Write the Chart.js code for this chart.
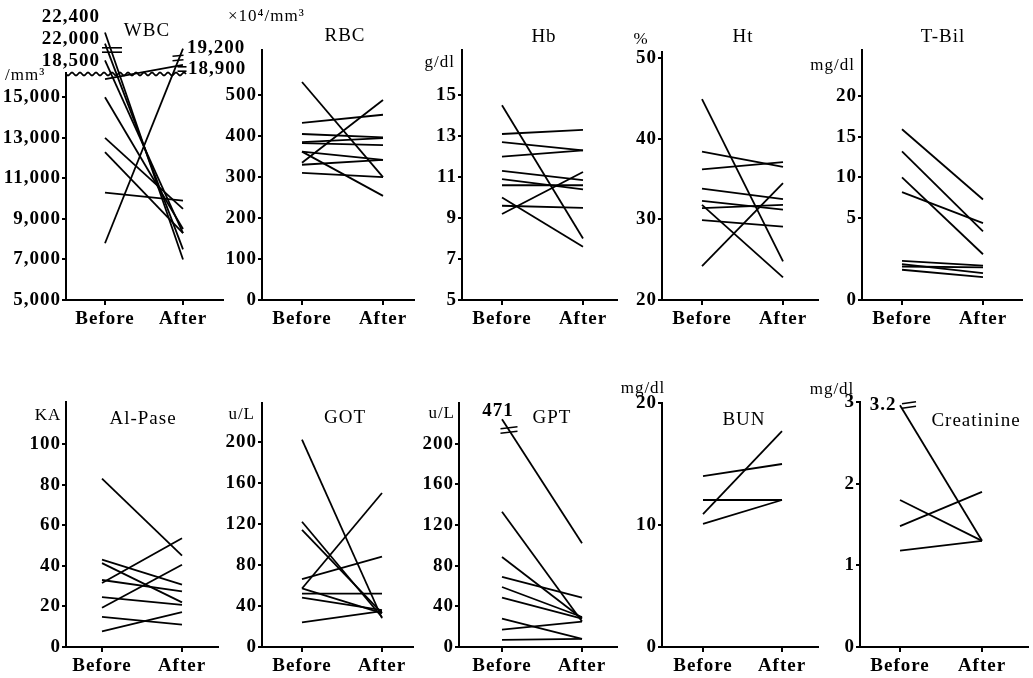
<!DOCTYPE html>
<html>
<head>
<meta charset="utf-8">
<script src="https://cdn.jsdelivr.net/npm/chart.js@4.4.1/dist/chart.umd.min.js"></script>
<style>
  html, body { margin: 0; padding: 0; background: #fff; }
  body { width: 1033px; height: 678px; position: relative; overflow: hidden; }
  canvas { position: absolute; }
</style>
</head>
<body>
<script>
const phases = ['Before', 'After'];

// WBC (/mm3) - values above 16,200 sit over the wavy break
const wbcBefore = [22400, 22000, 18500, 15900, 15000, 13000, 12300, 10300, 7800];
const wbcAfter  = [7000, 7500, 8300, 18900, 8500, 9500, 8300, 9900, 19200];
const wbcTicks  = [5000, 7000, 9000, 11000, 13000, 15000];
const wbcBreakPos = { 22400: 18200, 22000: 17650, 18500: 16820, 19200: 17400, 18900: 16600 };

// RBC (x10^4/mm3)
const rbcBefore = [532, 335, 432, 405, 385, 383, 362, 330, 310, 362];
const rbcAfter  = [300, 488, 452, 397, 395, 378, 342, 342, 300, 254];
const rbcTicks  = [0, 100, 200, 300, 400, 500];

// Hb (g/dl)
const hbBefore = [14.5, 13.1, 12.7, 12.0, 11.3, 10.9, 10.6, 10.0, 9.6, 9.2];
const hbAfter  = [8.0, 13.3, 12.3, 12.3, 10.85, 10.4, 10.6, 7.6, 9.5, 11.25];
const hbTicks  = [5, 7, 9, 11, 13, 15];

// Ht (%)
const htBefore = [44.9, 38.4, 36.2, 33.8, 32.3, 31.4, 31.8, 29.9, 24.2];
const htAfter  = [24.8, 36.5, 37.1, 32.5, 31.2, 31.8, 22.8, 29.1, 34.5];
const htTicks  = [20, 30, 40, 50];

// T-Bil (mg/dl) - the 0..5 band is drawn twice as tall
const tbilBefore = [15.9, 13.2, 10.0, 8.2, 2.4, 2.2, 2.05, 1.85];
const tbilAfter  = [7.3, 4.2, 2.8, 4.7, 2.1, 1.65, 2.0, 1.4];
const tbilTicks  = [0, 5, 10, 15, 20];

// Al-Pase (KA)
const alpBefore = [83, 43, 41.3, 33, 31.5, 24.6, 19.3, 14.8, 7.7];
const alpAfter  = [45, 30.7, 22, 27.4, 53.6, 20.8, 40.5, 11, 17.2];
const alpTicks  = [0, 20, 40, 60, 80, 100];

// GOT (u/L)
const gotBefore = [202, 122, 114, 66, 57, 57, 52, 48, 24];
const gotAfter  = [28, 29, 33, 88, 150, 33, 52, 36, 35];
const gotTicks  = [0, 40, 80, 120, 160, 200];

// GPT (u/L) - 471 is drawn below the break
const gptBefore = [471, 133, 88.5, 69, 59, 48.5, 28, 17, 7];
const gptAfter  = [102, 25, 28, 48.5, 29.5, 28, 8, 25, 8];
const gptTicks  = [0, 40, 80, 120, 160, 200];
const gptBreakPos = 224;

// BUN (mg/dl)
const bunBefore = [14.0, 12.05, 10.9, 10.1];
const bunAfter  = [15.0, 12.05, 17.7, 12.05];
const bunTicks  = [0, 10, 20];

// Creatinine (mg/dl) - 3.2 is drawn below the break
const creBefore = [3.2, 1.8, 1.48, 1.18];
const creAfter  = [1.3, 1.3, 1.9, 1.3];
const creTicks  = [0, 1, 2, 3];
const creBreakPos = 2.96;

const SERIF = '"Liberation Serif", "DejaVu Serif", serif';
const F_TICK = 'bold 19px ' + SERIF;
const F_TITLE = '19px ' + SERIF;
const F_UNIT = '17px ' + SERIF;
const ML = 70, MT = 80, MR = 45, MB = 40;

const same = v => v;
const plain = v => String(v);

const panels = [
  {
    before: wbcBefore, after: wbcAfter, ticks: wbcTicks, min: 5000, max: 16200,
    shown: v => (v > 16200 ? wbcBreakPos[v] : v),
    fmt: v => v.toLocaleString('en-US'),
    box: { l: 66, bx: 105, ax: 183, r: 223, t: 73, b: 300 },
    texts: [
      ['WBC', 147, 31, 'center', F_TITLE],
      ['/mm\u00b3', 5, 76, 'left', F_UNIT],
      ['22,400', 100, 17, 'right', F_TICK],
      ['22,000', 100, 39, 'right', F_TICK],
      ['18,500', 100, 61, 'right', F_TICK],
      ['19,200', 187, 48, 'left', F_TICK],
      ['18,900', 188, 69, 'left', F_TICK]
    ],
    marks: [[112, 50, 20, 0], [178, 58, 11, -1], [182, 69, 9, 0]],
    wave: [66, 186, 74]
  },
  {
    before: rbcBefore, after: rbcAfter, ticks: rbcTicks, min: 0, max: 610,
    shown: same, fmt: plain,
    box: { l: 262, bx: 302, ax: 383, r: 414, t: 50, b: 300 },
    texts: [
      ['RBC', 345, 36, 'center', F_TITLE],
      ['\u00d710\u2074/mm\u00b3', 228, 17, 'left', F_UNIT]
    ]
  },
  {
    before: hbBefore, after: hbAfter, ticks: hbTicks, min: 5, max: 17.2,
    shown: same, fmt: plain,
    box: { l: 462, bx: 502, ax: 583, r: 617, t: 50, b: 300 },
    texts: [
      ['Hb', 544, 37, 'center', F_TITLE],
      ['g/dl', 455, 63, 'right', F_UNIT]
    ]
  },
  {
    before: htBefore, after: htAfter, ticks: htTicks, min: 20, max: 50.75,
    shown: same, fmt: plain,
    box: { l: 662, bx: 702, ax: 783, r: 818, t: 52, b: 300 },
    texts: [
      ['Ht', 743, 37, 'center', F_TITLE],
      ['%', 641, 40, 'center', F_UNIT]
    ]
  },
  {
    before: tbilBefore, after: tbilAfter, ticks: tbilTicks, min: -5, max: 25.6,
    shown: v => (v >= 5 ? v : 2 * v - 5),
    fmt: plain,
    box: { l: 862, bx: 902, ax: 983, r: 1022, t: 50, b: 300 },
    texts: [
      ['T-Bil', 943, 37, 'center', F_TITLE],
      ['mg/dl', 855, 66, 'right', F_UNIT]
    ]
  },
  {
    before: alpBefore, after: alpAfter, ticks: alpTicks, min: 0, max: 120.7,
    shown: same, fmt: plain,
    box: { l: 66, bx: 102, ax: 182, r: 218, t: 402, b: 647 },
    texts: [
      ['Al-Pase', 143, 419, 'center', F_TITLE],
      ['KA', 48, 416, 'center', F_UNIT]
    ]
  },
  {
    before: gotBefore, after: gotAfter, ticks: gotTicks, min: 0, max: 237.6,
    shown: same, fmt: plain,
    box: { l: 262, bx: 302, ax: 382, r: 413, t: 403, b: 647 },
    texts: [
      ['GOT', 345, 418, 'center', F_TITLE],
      ['u/L', 255, 415, 'right', F_UNIT]
    ]
  },
  {
    before: gptBefore, after: gptAfter, ticks: gptTicks, min: 0, max: 240,
    shown: v => (v > 240 ? gptBreakPos : v),
    fmt: plain,
    box: { l: 459, bx: 502, ax: 582, r: 617, t: 403, b: 647 },
    texts: [
      ['GPT', 552, 418, 'center', F_TITLE],
      ['u/L', 455, 414, 'right', F_UNIT],
      ['471', 498, 411, 'center', F_TICK]
    ],
    marks: [[509, 430, 17, -2]]
  },
  {
    before: bunBefore, after: bunAfter, ticks: bunTicks, min: 0, max: 20,
    shown: same, fmt: plain,
    box: { l: 662, bx: 703, ax: 782, r: 818, t: 403, b: 647 },
    texts: [
      ['BUN', 744, 420, 'center', F_TITLE],
      ['mg/dl', 643, 389, 'center', F_UNIT]
    ]
  },
  {
    before: creBefore, after: creAfter, ticks: creTicks, min: 0, max: 3,
    shown: v => (v > 3 ? creBreakPos : v),
    fmt: plain,
    box: { l: 860, bx: 900, ax: 982, r: 1028, t: 402, b: 647 },
    texts: [
      ['Creatinine', 976, 421, 'center', F_TITLE],
      ['mg/dl', 832, 390, 'center', F_UNIT],
      ['3.2', 883, 405, 'center', F_TICK]
    ],
    marks: [[909, 405, 14, -2]]
  }
];

function makePanel(p) {
  const bx = p.box;
  const W = (bx.r - bx.l) + ML + MR;
  const H = (bx.b - bx.t) + MT + MB;
  const ox = bx.l - ML, oy = bx.t - MT;
  const cv = document.createElement('canvas');
  cv.width = W;
  cv.height = H;
  cv.style.left = ox + 'px';
  cv.style.top = oy + 'px';
  document.body.appendChild(cv);

  const span = bx.ax - bx.bx;
  const xMin = -(bx.bx - bx.l) / span;
  const xMax = 1 + (bx.r - bx.ax) / span;

  const datasets = p.before.map((v, i) => ({
    data: [{ x: 0, y: p.shown(v) }, { x: 1, y: p.shown(p.after[i]) }],
    borderColor: '#000',
    borderWidth: 1.8,
    pointRadius: 0,
    fill: false,
    clip: false
  }));

  const deco = {
    id: 'deco',
    beforeDraw(chart) {
      chart.ctx.letterSpacing = '1px';
    },
    afterDraw(chart) {
      const ctx = chart.ctx;
      ctx.save();
      ctx.fillStyle = '#000';
      ctx.strokeStyle = '#000';
      ctx.textBaseline = 'middle';
      (p.texts || []).forEach(([s, x, y, align, font]) => {
        ctx.font = font;
        ctx.textAlign = align;
        ctx.fillText(s, x - ox, y - oy);
      });
      // little "=" break marks
      ctx.lineWidth = 1.6;
      (p.marks || []).forEach(([x, y, w, tilt]) => {
        [-2.2, 2.2].forEach(d => {
          ctx.beginPath();
          ctx.moveTo(x - w / 2 - ox, y + d - tilt / 2 - oy);
          ctx.lineTo(x + w / 2 - ox, y + d + tilt / 2 - oy);
          ctx.stroke();
        });
      });
      // wavy break across the top of the WBC axis
      if (p.wave) {
        const [x0, x1, y] = p.wave;
        ctx.lineWidth = 1.8;
        ctx.beginPath();
        for (let x = x0; x <= x1; x += 1) {
          const yy = y + 1.6 * Math.sin((x - x0) / 8 * Math.PI * 2);
          if (x === x0) ctx.moveTo(x - ox, yy - oy);
          else ctx.lineTo(x - ox, yy - oy);
        }
        ctx.stroke();
      }
      ctx.restore();
    }
  };

  new Chart(cv, {
    type: 'line',
    data: { datasets },
    options: {
      responsive: false,
      animation: false,
      events: [],
      layout: { padding: { left: 0, top: MT, right: MR, bottom: 0 } },
      plugins: { legend: { display: false }, tooltip: { enabled: false } },
      scales: {
        x: {
          type: 'linear',
          min: xMin,
          max: xMax,
          afterBuildTicks: s => { s.ticks = [{ value: 0 }, { value: 1 }]; },
          afterFit: s => { s.height = MB; },
          border: { display: true, color: '#000', width: 2 },
          grid: { drawOnChartArea: false, drawTicks: true, tickLength: 5, color: '#000', lineWidth: 2 },
          ticks: {
            color: '#000',
            font: { family: SERIF, size: 19, weight: 'bold' },
            padding: 3,
            maxRotation: 0,
            autoSkip: false,
            callback: v => phases[v]
          }
        },
        y: {
          type: 'linear',
          min: p.min,
          max: p.max,
          afterBuildTicks: s => { s.ticks = p.ticks.map(v => ({ value: p.shown(v) })); },
          afterFit: s => { s.width = ML; },
          border: { display: true, color: '#000', width: 2 },
          grid: { drawOnChartArea: false, drawTicks: true, tickLength: 4, color: '#000', lineWidth: 2 },
          ticks: {
            color: '#000',
            font: { family: SERIF, size: 19, weight: 'bold' },
            padding: 1,
            autoSkip: false,
            callback: (v, i) => p.fmt(p.ticks[i])
          }
        }
      }
    },
    plugins: [deco]
  });
}

panels.forEach(makePanel);
</script>
</body>
</html>
